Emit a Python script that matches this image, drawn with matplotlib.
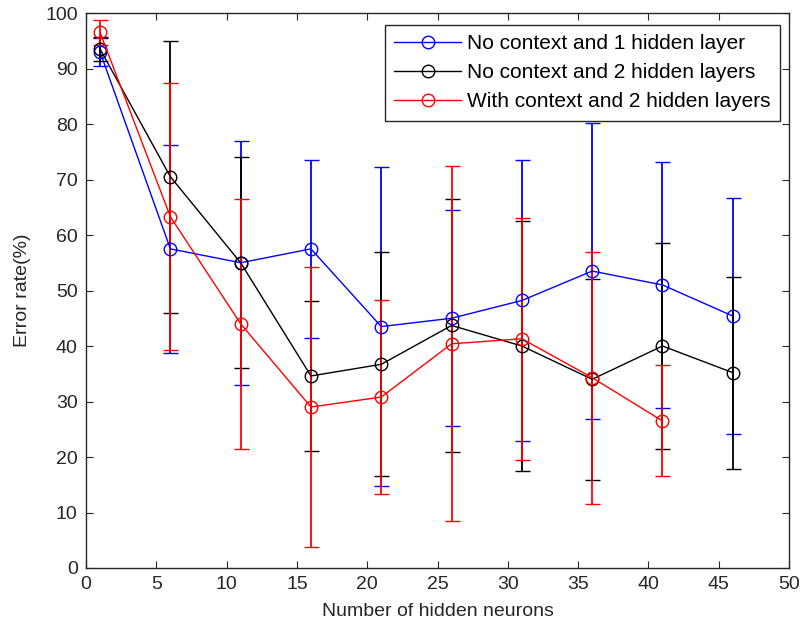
import numpy as np
import matplotlib
matplotlib.use("Agg")
import matplotlib.pyplot as plt

plt.rcParams['font.family'] = ['Liberation Sans', 'DejaVu Sans']

# hidden neuron counts
neurons = [1, 6, 11, 16, 21, 26, 31, 36, 41, 46]

# no context, 1 hidden layer
blue_mean = [93.0, 57.5, 55.0, 57.5, 43.5, 45.0, 48.2, 53.5, 51.0, 45.4]
blue_err = [2.5, 18.7, 22.0, 16.0, 28.7, 19.5, 25.3, 26.7, 22.1, 21.2]

# no context, 2 hidden layers
black_mean = [93.5, 70.5, 55.0, 34.6, 36.7, 43.7, 40.0, 34.0, 40.0, 35.2]
black_err = [2.2, 24.5, 19.0, 13.5, 20.2, 22.8, 22.6, 18.1, 18.6, 17.3]

# with context, 2 hidden layers (no run at 46)
red_mean = [96.5, 63.3, 44.0, 29.0, 30.8, 40.4, 41.3, 34.3, 26.5]
red_err = [2.2, 24.0, 22.5, 25.3, 17.4, 32.0, 21.8, 22.7, 10.0]

labels = ["No context and 1 hidden layer",
          "No context and 2 hidden layers",
          "With context and 2 hidden layers"]

fig = plt.figure(figsize=(8.01, 6.25), dpi=100)
ax = fig.add_axes([86/801, 1 - 568/625, (789 - 86)/801, (568 - 13)/625])

series = [
    (blue_mean, blue_err, "#0000ff"),
    (black_mean, black_err, "#000000"),
    (red_mean, red_err, "#ff0000"),
]
for (m, e, c), lab in zip(series, labels):
    x = neurons[:len(m)]
    ax.errorbar(x, m, yerr=e, color=c, marker="o", markersize=9,
                markerfacecolor="none", markeredgecolor=c, markeredgewidth=1.0,
                linewidth=1.0, elinewidth=1.3, capsize=5.4, capthick=1.3,
                label=lab)

ax.set_xlim(0, 50)
ax.set_ylim(0, 100)
ax.set_xticks(np.arange(0, 51, 5))
ax.set_yticks(np.arange(0, 101, 10))
ax.tick_params(direction="in", top=True, right=True, length=5,
               labelsize=14, colors="#262626", pad=6)
for s in ax.spines.values():
    s.set_color("#262626")
    s.set_linewidth(1.0)

ax.set_xlabel("Number of hidden neurons", fontsize=14, color="#262626", labelpad=7)
ax.set_ylabel("Error rate(%)", fontsize=14, color="#262626", labelpad=10)

handles, labs = ax.get_legend_handles_labels()
handles = [h[0] for h in handles]
leg = ax.legend(handles, labs, loc="upper right", fontsize=15,
                bbox_to_anchor=(780/801, 1 - 25/625), bbox_transform=fig.transFigure,
                fancybox=False, framealpha=1, edgecolor="#262626",
                borderpad=0.45, labelspacing=0.48, handlelength=3.2,
                handletextpad=0.3, borderaxespad=0)
leg.get_frame().set_linewidth(1.0)

fig.savefig("out.png", dpi=100)
